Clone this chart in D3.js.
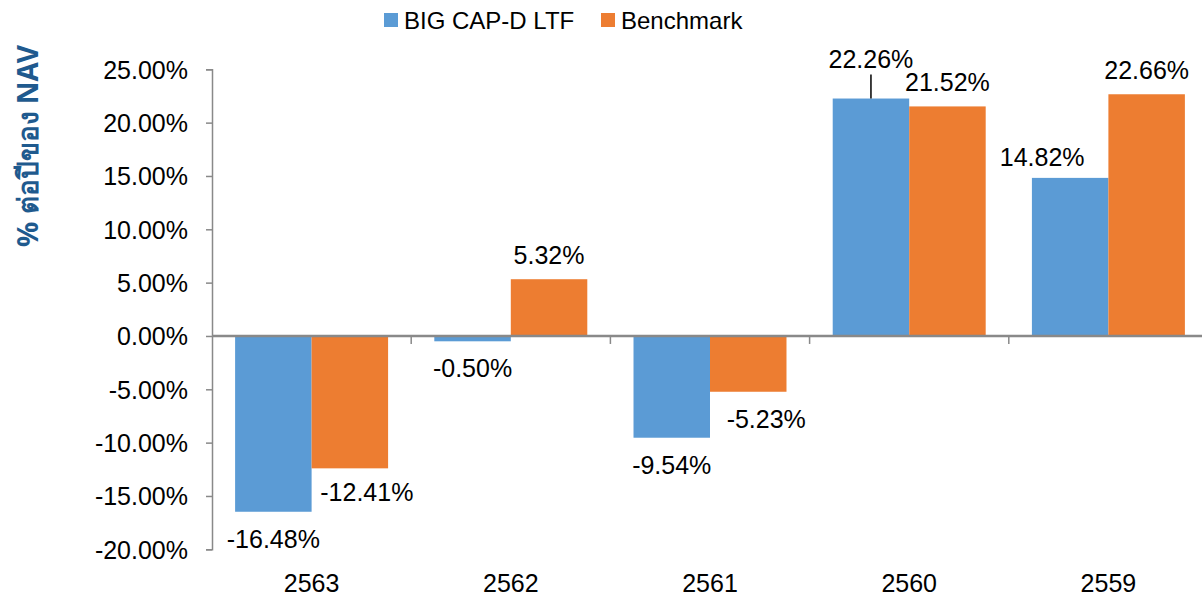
<!DOCTYPE html>
<html>
<head>
<meta charset="utf-8">
<script src="https://cdn.jsdelivr.net/npm/d3@7"></script>
<style>
  html, body { margin: 0; padding: 0; background: #fff; }
  svg { display: block; }
  text { font-family: "Liberation Sans", Arial, sans-serif; fill: #000; }
</style>
</head>
<body>
<svg id="chart" width="1202" height="596"></svg>
<script>
// Fiscal years (Thai calendar) and annual returns in percent
const years = ["2563", "2562", "2561", "2560", "2559"];
const seriesNames = ["BIG CAP-D LTF", "Benchmark"];
const fundReturns = [-16.48, -0.50, -9.54, 22.26, 14.82];
const benchmarkReturns = [-12.41, 5.32, -5.23, 21.52, 22.66];
const yTicks = [-20, -15, -10, -5, 0, 5, 10, 15, 20, 25];
const axisTitle = "% ต่อปีของ NAV";

const colors = ["#5B9BD5", "#ED7D31"];
const seriesValues = [fundReturns, benchmarkReturns];

// Hand-placed label nudges [dx, dy] per series, per year
const labelNudge = [
  [[0, 0], [0, 0], [0, 0], [0, -16], [-28, 3]],
  [[17, -3], [0, 0], [18, 0], [0, 0], [0, 0]]
];
// years whose moved label gets a leader line, per series
const leaderLines = [[false, false, false, true, false], [false, false, false, false, false]];

// percent format with a plain hyphen for negatives
const pct = v => d3.format(".2f")(v).replace("\u2212", "-") + "%";

const svg = d3.select("#chart");
const plotLeft = 212, plotRight = 1208, plotTop = 69.3, plotBottom = 549.3;
const fs = 25;

const x = d3.scaleBand().domain(years).range([plotLeft, plotRight]).paddingInner(0.232).paddingOuter(0.116);
const xs = d3.scaleBand().domain([0, 1]).range([0, x.bandwidth()]);
const y = d3.scaleLinear().domain([-20, 25]).range([plotBottom, plotTop]);

const grey = "#898989";

// bars
seriesValues.forEach((vals, si) => {
  svg.append("g").selectAll("rect")
    .data(vals.map((v, i) => ({ v, year: years[i] })))
    .join("rect")
    .attr("x", d => x(d.year) + xs(si))
    .attr("width", xs.bandwidth())
    .attr("y", d => y(Math.max(0, d.v)))
    .attr("height", d => Math.abs(y(d.v) - y(0)))
    .attr("fill", colors[si]);
});

// y axis
const yAxis = d3.axisLeft(y).tickValues(yTicks).tickSize(6).tickPadding(18).tickFormat(pct);
const gy = svg.append("g").attr("transform", `translate(${plotLeft},0)`).call(yAxis);
gy.select(".domain").attr("stroke", grey).attr("stroke-width", 1.5);
gy.selectAll(".tick line").attr("stroke", grey).attr("stroke-width", 1.5);
gy.selectAll(".tick text").style("font-size", fs + "px").attr("dy", "0.36em").attr("fill", "#000");

// zero line with category separator ticks
svg.append("line")
  .attr("x1", plotLeft).attr("x2", plotRight)
  .attr("y1", y(0)).attr("y2", y(0))
  .attr("stroke", grey).attr("stroke-width", 2.5);
const step = x.step();
svg.append("g").selectAll("line")
  .data(years.slice(1))
  .join("line")
  .attr("x1", d => x(d) - x.paddingInner() * step / 2)
  .attr("x2", d => x(d) - x.paddingInner() * step / 2)
  .attr("y1", y(0)).attr("y2", y(0) + 8)
  .attr("stroke", grey).attr("stroke-width", 1.5);

// category labels
svg.append("g").selectAll("text")
  .data(years)
  .join("text")
  .attr("x", d => x(d) + x.bandwidth() / 2)
  .attr("y", 592)
  .attr("text-anchor", "middle")
  .style("font-size", fs + "px")
  .text(d => d);

// data labels
seriesValues.forEach((vals, si) => {
  vals.forEach((v, i) => {
    const cx = x(years[i]) + xs(si) + xs.bandwidth() / 2;
    const edge = y(v);
    const [dx, dy] = labelNudge[si][i];
    const cy = (v >= 0 ? edge - 24 : edge + 27) + dy;
    svg.append("text")
      .attr("x", cx + dx)
      .attr("y", cy + 0.36 * fs)
      .attr("text-anchor", "middle")
      .style("font-size", fs + "px")
      .text(pct(v));
    if (leaderLines[si][i]) {
      svg.append("line")
        .attr("x1", cx).attr("x2", cx)
        .attr("y1", edge).attr("y2", cy + 16)
        .attr("stroke", "#000").attr("stroke-width", 1.5);
    }
  });
});

// legend
const legend = svg.append("g");
const legendX = [384, 601];
seriesNames.forEach((name, si) => {
  legend.append("rect")
    .attr("x", legendX[si]).attr("y", 13)
    .attr("width", 14).attr("height", 14)
    .attr("fill", colors[si]);
  legend.append("text")
    .attr("x", legendX[si] + 20).attr("y", 20 + 0.36 * 24)
    .style("font-size", "24px")
    .text(name);
});

// value axis title
svg.append("text")
  .attr("transform", "translate(38,146) rotate(-90)")
  .attr("text-anchor", "middle")
  .style("font-size", "28px")
  .style("font-weight", "bold")
  .style("font-family", "Tahoma, 'Noto Sans', 'DejaVu Sans', sans-serif")
  .style("fill", "#1F5A8E")
  .text(axisTitle);
</script>
</body>
</html>
